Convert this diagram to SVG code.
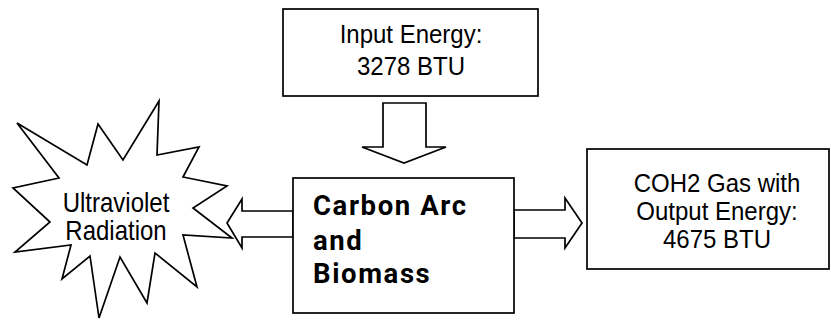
<svg xmlns="http://www.w3.org/2000/svg" width="831" height="320" viewBox="0 0 831 320">
<style>
.box{fill:#fff;stroke:#000;stroke-width:1.7}
.arrow{fill:#fff;stroke:#000;stroke-width:1.7;stroke-linejoin:miter}
.t{font-family:"Liberation Sans",Arial,sans-serif;font-size:24px;fill:#000;text-anchor:middle}
.b{font-family:Roboto,"Liberation Sans",sans-serif;font-size:27.5px;font-weight:bold;letter-spacing:1.6px;fill:#000}
</style>
<rect width="831" height="320" fill="#fff"/>
<g id="connectors">
<polygon class="arrow" points="383,103 426,103 426,147 446,147 404,163 362,147 383,147"/>
<polygon class="arrow" points="293,211 242,211 242,199 227,223 242,248 242,237 293,237"/>
<polygon class="arrow" points="514,210 565,210 565,198 582,223 565,248 565,238 514,238"/>
</g>
<g id="input">
<rect class="box" x="283" y="9" width="255" height="87"/>
<text class="t" transform="translate(411,43) scale(1,1.07)">Input Energy:</text>
<text class="t" transform="translate(411,75) scale(1,1.07)">3278 BTU</text>
</g>
<g id="uv">
<polygon class="box" points="159,101 157,155 199,147 183,177 227,186 193,208 232,238 183,235 197,287 155,253 147,303 120,257 99,318 90,256 62,279 71,245 15,252 50,222 13,188 59,178 17,123 87,165 98,124 123,160"/>
<text class="t" transform="translate(116,212) scale(1,1.15)">Ultraviolet</text>
<text class="t" transform="translate(116,240) scale(1,1.15)">Radiation</text>
</g>
<g id="carbon">
<rect class="box" x="293" y="178" width="221" height="135"/>
<text class="b" x="313" y="215">Carbon Arc</text>
<text class="b" x="313" y="250">and</text>
<text class="b" x="313" y="283">Biomass</text>
</g>
<g id="output">
<rect class="box" x="587" y="149" width="242" height="120"/>
<text class="t" transform="translate(717,192) scale(1,1.07)">COH2 Gas with</text>
<text class="t" transform="translate(717,220) scale(1,1.07)">Output Energy:</text>
<text class="t" transform="translate(717,248) scale(1,1.07)">4675 BTU</text>
</g>
</svg>
